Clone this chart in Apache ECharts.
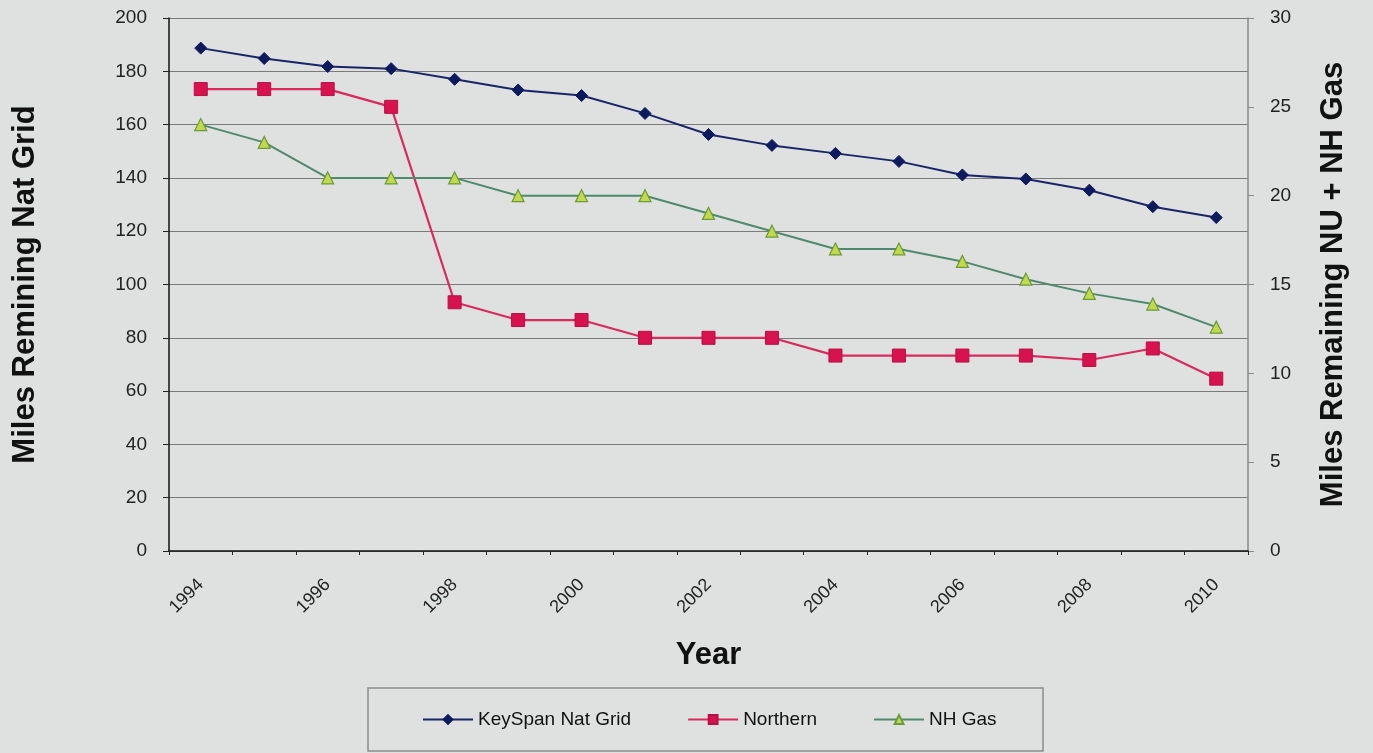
<!DOCTYPE html>
<html>
<head>
<meta charset="utf-8">
<script src="https://cdn.jsdelivr.net/npm/echarts@6/dist/echarts.min.js"></script>
<style>
  html, body { margin: 0; padding: 0; background: #dfe0e0; }
  #chart { width: 1373px; height: 753px; }
</style>
</head>
<body>
<div id="chart"></div>
<script>
const years = ['1994','1995','1996','1997','1998','1999','2000','2001','2002','2003','2004','2005','2006','2007','2008','2009','2010'];
const keySpanNatGrid = [188.7, 184.8, 181.8, 181, 177, 173, 170.9, 164.2, 156.3, 152.2, 149.2, 146.2, 141.1, 139.6, 135.4, 129.2, 125.1];
const northern = [26, 26, 26, 25, 14, 13, 13, 12, 12, 12, 11, 11, 11, 11, 10.75, 11.4, 9.7];
const nhGas = [24, 23, 21, 21, 21, 20, 20, 20, 19, 18, 17, 17, 16.3, 15.3, 14.5, 13.9, 12.6];
const seriesNames = ['KeySpan Nat Grid', 'Northern', 'NH Gas'];
const leftAxisTitle = 'Miles Remining Nat Grid';
const rightAxisTitle = 'Miles Remaining NU + NH Gas';
const xAxisTitle = 'Year';

const FONT = '"Liberation Sans", Arial, sans-serif';
const chart = echarts.init(document.getElementById('chart'), null, { renderer: 'canvas' });

chart.setOption({
  backgroundColor: '#dfe0e0',
  animation: false,
  textStyle: { fontFamily: FONT },
  grid: { left: 169, right: 125, top: 18, bottom: 202, containLabel: false },
  graphic: [{
    type: 'rect',
    shape: { x: 368, y: 688, width: 675, height: 63 },
    style: { fill: 'rgba(0,0,0,0)', stroke: '#8c8c8c', lineWidth: 1.5 },
    silent: true
  }],
  legend: {
    left: 422,
    top: 710,
    padding: 0,
    itemWidth: 50,
    itemHeight: 11,
    itemGap: 56,
    textStyle: { fontFamily: FONT, fontSize: 19, color: '#111' },
    data: seriesNames
  },
  xAxis: {
    type: 'category',
    data: years,
    boundaryGap: true,
    name: xAxisTitle,
    nameLocation: 'middle',
    nameGap: 89,
    nameTextStyle: { fontFamily: FONT, fontSize: 31, fontWeight: 'bold', color: '#111' },
    axisLine: { show: true, lineStyle: { color: '#111', width: 1.5 } },
    axisTick: { show: true, interval: 0, length: 4, alignWithLabel: false, lineStyle: { color: '#222' } },
    axisLabel: { interval: 1, rotate: 45, margin: 31, fontSize: 18, color: '#222', fontFamily: FONT },
    splitLine: { show: false }
  },
  yAxis: [{
    type: 'value',
    min: 0, max: 200, interval: 20,
    position: 'left',
    name: leftAxisTitle,
    nameLocation: 'middle',
    nameRotate: 90,
    nameGap: 128,
    nameTextStyle: { fontFamily: FONT, fontSize: 31, fontWeight: 'bold', color: '#111' },
    axisLine: { show: true, lineStyle: { color: '#111', width: 1.5 } },
    axisTick: { show: true, length: 6, lineStyle: { color: '#222' } },
    axisLabel: { margin: 22, fontSize: 19, color: '#222', fontFamily: FONT },
    splitLine: { show: true, lineStyle: { color: '#7a7a7a', width: 1.2 } }
  }, {
    type: 'value',
    min: 0, max: 30, interval: 5,
    position: 'right',
    name: rightAxisTitle,
    nameLocation: 'middle',
    nameRotate: 90,
    nameGap: 70,
    nameTextStyle: { fontFamily: FONT, fontSize: 31, fontWeight: 'bold', color: '#111' },
    axisLine: { show: true, lineStyle: { color: '#8a8a8a', width: 1.5 } },
    axisTick: { show: true, length: 6, lineStyle: { color: '#8a8a8a' } },
    axisLabel: { margin: 22, fontSize: 19, color: '#222', fontFamily: FONT },
    splitLine: { show: false }
  }],
  series: [{
    name: seriesNames[0],
    type: 'line',
    yAxisIndex: 0,
    data: keySpanNatGrid,
    symbol: 'diamond',
    symbolSize: 12,
    lineStyle: { color: '#1a2466', width: 2 },
    itemStyle: { color: '#0d1a5e', borderColor: '#0d1a5e', borderWidth: 1 }
  }, {
    name: seriesNames[1],
    type: 'line',
    yAxisIndex: 1,
    data: northern,
    symbol: 'rect',
    symbolSize: 13,
    lineStyle: { color: '#d92a5e', width: 2.2 },
    itemStyle: { color: '#d8114f', borderColor: '#b80f45', borderWidth: 1 }
  }, {
    name: seriesNames[2],
    type: 'line',
    yAxisIndex: 1,
    data: nhGas,
    symbol: 'triangle',
    symbolSize: 12,
    lineStyle: { color: '#4e8a6e', width: 2 },
    itemStyle: { color: '#c3d84a', borderColor: '#6b9a3c', borderWidth: 1.2 }
  }]
});
</script>
</body>
</html>
